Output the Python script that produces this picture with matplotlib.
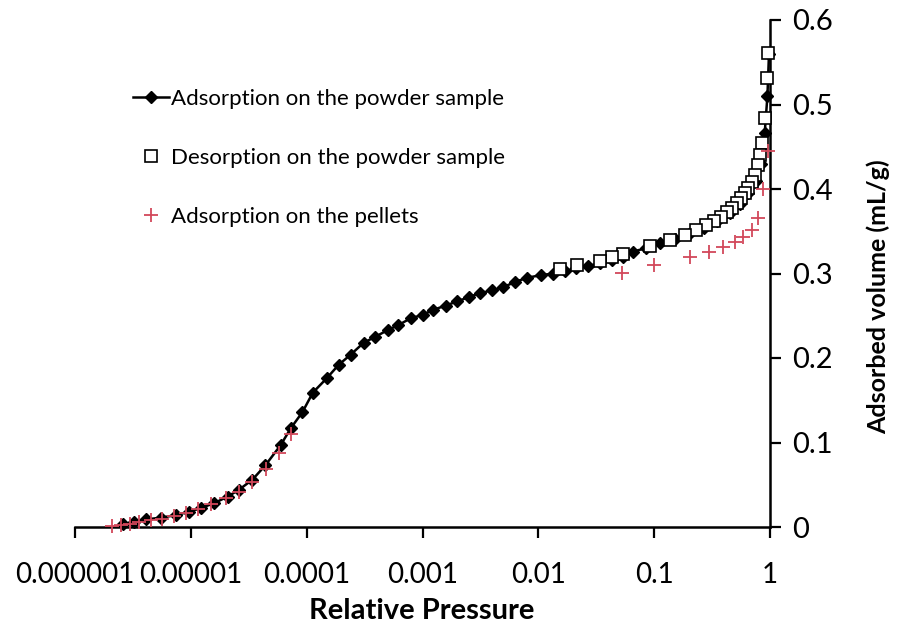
import matplotlib
matplotlib.use("Agg")
import matplotlib.pyplot as plt
from matplotlib.ticker import FixedLocator, FixedFormatter, NullLocator

plt.rcParams['font.family'] = ['Lato', 'DejaVu Sans']

# Adsorption on the powder sample
ads_x = [2.6e-6, 3.2e-6, 4.1e-6, 5.5e-6, 7.4e-6, 9.6e-6, 1.22e-5, 1.58e-5, 2.08e-5, 2.6e-5,
         3.4e-5, 4.4e-5, 5.97e-5, 7.3e-5, 9.2e-5, 1.13e-4, 1.49e-4, 1.89e-4, 2.4e-4, 3.1e-4,
         3.9e-4, 5.0e-4, 6.2e-4, 7.9e-4, 1.0e-3, 1.24e-3, 1.58e-3, 2.0e-3, 2.5e-3, 3.16e-3,
         4.0e-3, 5.0e-3, 6.3e-3, 8.0e-3, 0.0105, 0.0135, 0.017, 0.021, 0.027, 0.034,
         0.043, 0.054, 0.066, 0.085, 0.113, 0.15, 0.2, 0.27, 0.35, 0.45,
         0.55, 0.65, 0.75, 0.83, 0.9, 0.95, 0.98]
ads_y = [0.003, 0.006, 0.009, 0.011, 0.014, 0.018, 0.0225, 0.028, 0.036, 0.044,
         0.056, 0.073, 0.097, 0.117, 0.136, 0.159, 0.176, 0.192, 0.204, 0.218,
         0.225, 0.233, 0.239, 0.247, 0.251, 0.257, 0.262, 0.267, 0.272, 0.277,
         0.280, 0.284, 0.290, 0.295, 0.298, 0.300, 0.303, 0.306, 0.309, 0.312,
         0.316, 0.320, 0.326, 0.330, 0.336, 0.341, 0.347, 0.354, 0.362, 0.372,
         0.382, 0.395, 0.410, 0.430, 0.466, 0.510, 0.560]

# Desorption on the powder sample
des_x = [0.96, 0.94, 0.905, 0.853, 0.82, 0.79, 0.74, 0.70, 0.646, 0.61,
         0.56, 0.52, 0.47, 0.425, 0.38, 0.33, 0.28, 0.23, 0.185, 0.137,
         0.092, 0.054, 0.043, 0.034, 0.0217, 0.0155]
des_y = [0.561, 0.531, 0.484, 0.454, 0.440, 0.428, 0.417, 0.408, 0.401, 0.395,
         0.389, 0.383, 0.378, 0.373, 0.367, 0.362, 0.357, 0.351, 0.346, 0.340,
         0.333, 0.323, 0.320, 0.315, 0.310, 0.305]

# Adsorption on the pellets
pel_x = [2.1e-6, 2.5e-6, 3.0e-6, 3.6e-6, 4.5e-6, 5.6e-6, 7.1e-6, 9.0e-6, 1.15e-5, 1.5e-5,
         2.0e-5, 2.6e-5, 3.4e-5, 4.5e-5, 5.8e-5, 7.3e-5,
         0.053, 0.10, 0.204, 0.30, 0.39, 0.50, 0.585, 0.70, 0.79, 0.87, 0.96]
pel_y = [0.001, 0.002, 0.004, 0.006, 0.008, 0.010, 0.013, 0.016, 0.021, 0.027,
         0.034, 0.042, 0.053, 0.069, 0.088, 0.110,
         0.301, 0.310, 0.320, 0.326, 0.331, 0.337, 0.343, 0.351, 0.366, 0.400, 0.445]

x_ticks = [1e-6, 1e-5, 1e-4, 1e-3, 1e-2, 1e-1, 1]
x_tick_labels = ['0.000001', '0.00001', '0.0001', '0.001', '0.01', '0.1', '1']
y_ticks = [0, 0.1, 0.2, 0.3, 0.4, 0.5, 0.6]
y_tick_labels = ['0', '0.1', '0.2', '0.3', '0.4', '0.5', '0.6']

fig = plt.figure(figsize=(8.98, 6.29), dpi=100)
ax = fig.add_axes([75/898, 1-527/629, (770-75)/898, (527-20)/629])

red = '#d2485a'
ax.plot(ads_x, ads_y, color='black', lw=1.8, marker='D', ms=6.5, mfc='black', mec='black',
        label='Adsorption on the powder sample', clip_on=False, zorder=3)
ax.plot(des_x, des_y, ls='none', marker='s', ms=8.5, mfc='white', mec='black', mew=1.2,
        label='Desorption on the powder sample', clip_on=False, zorder=4)
ax.plot(pel_x, pel_y, ls='none', marker='+', ms=10.5, mec=red, mew=1.3,
        label='Adsorption on the pellets', clip_on=False, zorder=5)

ax.set_xscale('log')
ax.set_xlim(1e-6, 1)
ax.set_ylim(0, 0.6)

ax.xaxis.set_major_locator(FixedLocator(x_ticks))
ax.xaxis.set_major_formatter(FixedFormatter(x_tick_labels))
ax.xaxis.set_minor_locator(NullLocator())
ax.set_yticks(y_ticks)
ax.set_yticklabels(y_tick_labels)

for s in ['top', 'left']:
    ax.spines[s].set_visible(False)
ax.spines['right'].set_position(('data', 1))
ax.spines['bottom'].set_linewidth(1.8)
ax.spines['right'].set_linewidth(1.8)

ax.yaxis.tick_right()
ax.yaxis.set_label_position('right')
ax.tick_params(axis='x', direction='out', length=8, width=1.6, labelsize=20, pad=17)
ax.tick_params(axis='y', direction='out', length=8, width=1.6, labelsize=21, pad=8)

ax.set_xlabel('Relative Pressure', fontsize=21, fontweight='bold', va='center')
ax.xaxis.set_label_coords((422-75)/695, -(611-527)/507)
ax.set_ylabel('Adsorbed volume (mL/g)', fontsize=18, fontweight='bold', va='center')
ax.yaxis.set_label_coords((878-75)/695, (527-297)/507)

leg = ax.legend(loc='upper left', bbox_to_anchor=(133/898, 1-89/629),
                bbox_transform=fig.transFigure, frameon=False, fontsize=16,
                labelspacing=1.76, handlelength=1.6, handletextpad=0.1,
                borderpad=0, borderaxespad=0)

fig.savefig('out.png', dpi=100)
